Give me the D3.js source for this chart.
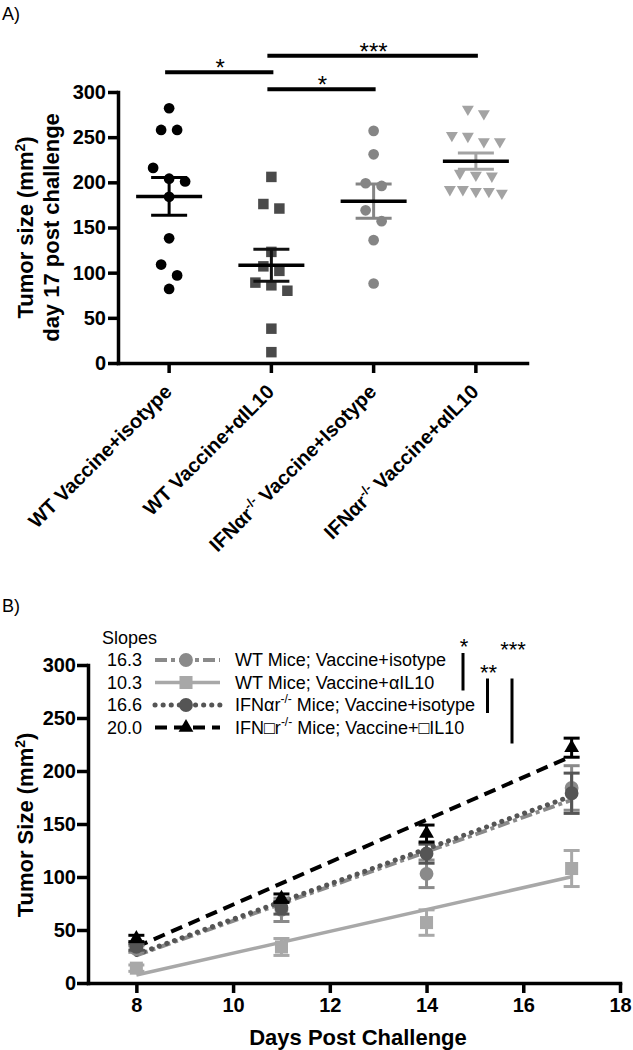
<!DOCTYPE html>
<html>
<head>
<meta charset="utf-8">
<script src="https://cdn.jsdelivr.net/npm/d3@7"></script>
<style>
body { margin: 0; background: #fff; }
svg { display: block; font-family: "Liberation Sans", Arial, sans-serif; }
</style>
</head>
<body>
<svg id="chart" width="633" height="1050"></svg>
<script>
// ---- panel A: day 17 tumour sizes per group
const groupsA = ["WT Vaccine+isotype", "WT Vaccine+αIL10", "IFNαr-/- Vaccine+Isotype", "IFNαr-/- Vaccine+αIL10"];
const wtIso17 = [282, 258, 258, 216, 204, 201, 184, 138, 109, 97, 82];
const wtIl1017 = [206, 176, 171, 123, 107, 102, 89, 86, 80, 38, 12];
const ifnIso17 = [257, 231, 199, 196, 169, 157, 136, 88];
const ifnIl1017 = [281, 276, 252, 251, 245, 245, 210, 208, 207, 192, 192, 190, 190, 188];
const yTicksA = [0, 50, 100, 150, 200, 250, 300];
const sigA = [[0, 1, "*", 322], [1, 2, "*", 303], [1, 3, "***", 340]];

// ---- panel B: growth curves
const days = [8, 11, 14, 17];
const wtIsoMean = [32, 69, 103, 184];
const wtIsoSem = [3, 11, 13, 21];
const wtIl10Mean = [14, 34, 57, 108];
const wtIl10Sem = [3, 8, 12, 17];
const ifnIsoMean = [34, 71, 122, 179];
const ifnIsoSem = [3, 6, 9, 19];
const ifnIl10Mean = [42, 80, 141, 222];
const ifnIl10Sem = [3, 4, 8, 9];
const slopes = [16.3, 10.3, 16.6, 20.0];
const fitStart = [26, 7.5, 27, 34];
const seriesB = ["WT Mice; Vaccine+isotype", "WT Mice; Vaccine+αIL10", "IFNαr-/- Mice; Vaccine+isotype", "IFN□r-/- Mice; Vaccine+□IL10"];
const xTicksB = [8, 10, 12, 14, 16, 18];
const yTicksB = [0, 50, 100, 150, 200, 250, 300];
const sigB = [[0, 1, "*"], [1, 2, "**"], [1, 3, "***"]];

const svg = d3.select("#chart");

// splits "-/-" into a superscript
function addText(sel, str, supSize) {
  const parts = str.split("-/-");
  parts.forEach((p, i) => {
    if (i > 0) {
      sel.append("tspan").attr("dy", -8).attr("font-size", supSize).text("-/-");
      sel.append("tspan").attr("dy", 8).text(p);
    } else {
      sel.append("tspan").text(p);
    }
  });
}

function styleAxis(g, fs) {
  g.selectAll(".domain").attr("stroke-width", 3.5).attr("stroke-linecap", "square");
  g.selectAll(".tick line").attr("stroke-width", 3.5);
  g.selectAll(".tick text").attr("font-size", fs).attr("font-weight", "bold").attr("fill", "#000")
    .attr("font-family", "Liberation Sans, Arial, sans-serif");
}

svg.append("text").attr("x", 2).attr("y", 20).attr("font-size", 18).text("A)");
svg.append("text").attr("x", 2).attr("y", 612).attr("font-size", 18).text("B)");

// ================= panel A
const xA = d3.scaleBand().domain(groupsA).range([118, 527]);
const yA = d3.scaleLinear().domain([0, 300]).range([363, 92]);
const cx = g => xA(g) + xA.bandwidth() / 2;

const yAxisA = svg.append("g").attr("transform", "translate(118,0)")
  .call(d3.axisLeft(yA).tickValues(yTicksA).tickSize(10).tickSizeOuter(0).tickPadding(2));
styleAxis(yAxisA, 20);

const xAxisA = svg.append("g").attr("transform", "translate(0,363)")
  .call(d3.axisBottom(xA).tickSize(10).tickSizeOuter(0));
styleAxis(xAxisA, 20);
xAxisA.selectAll(".tick text").remove();

groupsA.forEach(g => {
  const t = svg.append("text")
    .attr("transform", "translate(" + (cx(g) + 4) + ",393) rotate(-45)")
    .attr("text-anchor", "end").attr("font-size", 20).attr("font-weight", "bold");
  addText(t, g, 13);
});

const yTitleA = svg.append("text").attr("transform", "translate(33," + ((yA(0) + yA(300)) / 2) + ") rotate(-90)")
  .attr("text-anchor", "middle").attr("font-size", 22).attr("font-weight", "bold");
yTitleA.append("tspan").text("Tumor size (mm");
yTitleA.append("tspan").attr("dy", -8).attr("font-size", 14).text("2");
yTitleA.append("tspan").attr("dy", 8).text(")");
svg.append("text").attr("transform", "translate(59," + ((yA(0) + yA(300)) / 2) + ") rotate(-90)")
  .attr("text-anchor", "middle").attr("font-size", 22).attr("font-weight", "bold")
  .text("day 17 post challenge");

// rows of near-equal values spread side by side
function swarm(values) {
  const sorted = values.slice().sort((a, b) => b - a);
  const rows = [];
  sorted.forEach(v => {
    const last = rows[rows.length - 1];
    if (last && Math.abs(yA(v) - yA(last[0])) < 14) last.push(v);
    else rows.push([v]);
  });
  const out = [];
  rows.forEach(r => {
    const step = r.length > 1 ? Math.min(16, 52 / (r.length - 1)) : 0;
    r.forEach((v, i) => out.push({ v: v, dx: (i - (r.length - 1) / 2) * step }));
  });
  return out;
}

const setsA = [
  { vals: wtIso17, sym: d3.symbolCircle, size: 90, fill: "#000", bar: "#000", rot: 0 },
  { vals: wtIl1017, sym: d3.symbolSquare, size: 110, fill: "#4a4a4a", bar: "#111", rot: 0 },
  { vals: ifnIso17, sym: d3.symbolCircle, size: 90, fill: "#858585", bar: "#858585", rot: 0 },
  { vals: ifnIl1017, sym: d3.symbolTriangle, size: 62, fill: "#a3a3a3", bar: "#a3a3a3", rot: 180 }
];

setsA.forEach((s, i) => {
  const g = groupsA[i];
  const x0 = cx(g);
  const mean = d3.mean(s.vals);
  const sem = d3.deviation(s.vals) / Math.sqrt(s.vals.length);
  const gg = svg.append("g");
  gg.selectAll("path.pt").data(swarm(s.vals)).enter().append("path")
    .attr("d", d3.symbol().type(s.sym).size(s.size))
    .attr("transform", d => "translate(" + (x0 + d.dx) + "," + yA(d.v) + ") rotate(" + s.rot + ")")
    .attr("fill", s.fill);
  gg.append("line").attr("x1", x0).attr("x2", x0).attr("y1", yA(mean - sem)).attr("y2", yA(mean + sem))
    .attr("stroke", s.bar).attr("stroke-width", 3);
  [mean - sem, mean + sem].forEach(v => {
    gg.append("line").attr("x1", x0 - 18).attr("x2", x0 + 18).attr("y1", yA(v)).attr("y2", yA(v))
      .attr("stroke", s.bar).attr("stroke-width", 3);
  });
  gg.append("line").attr("x1", x0 - 33).attr("x2", x0 + 33).attr("y1", yA(mean)).attr("y2", yA(mean))
    .attr("stroke", "#000").attr("stroke-width", 3.5);
});

sigA.forEach(d => {
  const y = yA(d[3]);
  svg.append("line").attr("x1", cx(groupsA[d[0]]) - 4).attr("x2", cx(groupsA[d[1]]) + 2)
    .attr("y1", y).attr("y2", y).attr("stroke", "#000").attr("stroke-width", 4);
  svg.append("text").attr("x", (cx(groupsA[d[0]]) + cx(groupsA[d[1]])) / 2).attr("y", y + 4)
    .attr("text-anchor", "middle").attr("font-size", 24).text(d[2]);
});

// ================= panel B
const xB = d3.scaleLinear().domain([7, 18]).range([88, 620]);
const yB = d3.scaleLinear().domain([0, 300]).range([983, 665]);

const yAxisB = svg.append("g").attr("transform", "translate(88,0)")
  .call(d3.axisLeft(yB).tickValues(yTicksB).tickSize(11).tickSizeOuter(0).tickPadding(1));
styleAxis(yAxisB, 20);
const xAxisB = svg.append("g").attr("transform", "translate(0,983)")
  .call(d3.axisBottom(xB).tickValues(xTicksB).tickSize(10).tickSizeOuter(0).tickPadding(5));
styleAxis(xAxisB, 20);

const yTitleB = svg.append("text").attr("transform", "translate(33," + 825 + ") rotate(-90)")
  .attr("text-anchor", "middle").attr("font-size", 22).attr("font-weight", "bold");
yTitleB.append("tspan").text("Tumor Size (mm");
yTitleB.append("tspan").attr("dy", -8).attr("font-size", 14).text("2");
yTitleB.append("tspan").attr("dy", 8).text(")");
svg.append("text").attr("x", 358).attr("y", 1045).attr("text-anchor", "middle")
  .attr("font-size", 22).attr("font-weight", "bold").text("Days Post Challenge");

const setsB = [
  { mean: wtIsoMean, sem: wtIsoSem, color: "#8a8a8a", sym: d3.symbolCircle, size: 150, dash: "12,4,4,4", w: 4, cap: "butt" },
  { mean: wtIl10Mean, sem: wtIl10Sem, color: "#a8a8a8", sym: d3.symbolSquare, size: 170, dash: null, w: 3.5, cap: "butt" },
  { mean: ifnIsoMean, sem: ifnIsoSem, color: "#555", sym: d3.symbolCircle, size: 150, dash: "0.1,8", w: 5, cap: "round" },
  { mean: ifnIl10Mean, sem: ifnIl10Sem, color: "#000", sym: d3.symbolTriangle, size: 95, dash: "12,7", w: 4, cap: "butt" }
];

const fitLine = d3.line().x(d => xB(d[0])).y(d => yB(d[1]));
setsB.forEach((s, i) => {
  const pts = [8, 17].map(d => [d, fitStart[i] + slopes[i] * (d - 8)]);
  const p = svg.append("path").attr("d", fitLine(pts)).attr("fill", "none")
    .attr("stroke", s.color).attr("stroke-width", s.w).attr("stroke-linecap", s.cap);
  if (s.dash) p.attr("stroke-dasharray", s.dash);
});

setsB.forEach(s => {
  const g = svg.append("g");
  days.forEach((d, j) => {
    const x = xB(d), lo = yB(s.mean[j] - s.sem[j]), hi = yB(s.mean[j] + s.sem[j]);
    g.append("line").attr("x1", x).attr("x2", x).attr("y1", lo).attr("y2", hi).attr("stroke", s.color).attr("stroke-width", 3);
    [lo, hi].forEach(y => g.append("line").attr("x1", x - 8).attr("x2", x + 8).attr("y1", y).attr("y2", y)
      .attr("stroke", s.color).attr("stroke-width", 3));
  });
  g.selectAll("path").data(days).enter().append("path")
    .attr("d", d3.symbol().type(s.sym).size(s.size))
    .attr("transform", (d, j) => "translate(" + xB(d) + "," + yB(s.mean[j]) + ")")
    .attr("fill", s.color);
});

// legend
const rowY = i => 660 + i * 22.5;
svg.append("text").attr("x", 102).attr("y", 644).attr("font-size", 18).text("Slopes");
setsB.forEach((s, i) => {
  const y = rowY(i);
  svg.append("text").attr("x", 107).attr("y", y + 6).attr("font-size", 18).text(d3.format(".1f")(slopes[i]));
  const l = svg.append("line").attr("x1", 155).attr("x2", 220).attr("y1", y).attr("y2", y)
    .attr("stroke", s.color).attr("stroke-width", s.w).attr("stroke-linecap", s.cap);
  if (s.dash) l.attr("stroke-dasharray", s.dash);
  svg.append("path").attr("d", d3.symbol().type(s.sym).size(s.size))
    .attr("transform", "translate(186," + y + ")").attr("fill", s.color);
  const t = svg.append("text").attr("x", 235).attr("y", y + 6).attr("font-size", 18);
  addText(t, seriesB[i], 12);
});

sigB.forEach((d, k) => {
  const x = 463 + k * 24.5;
  const top = rowY(d[0]) - 7 + (k > 0 ? 3 : 0);
  const bot = rowY(d[1]) + 8 + (d[1] - d[0] - 1) * 8;
  svg.append("line").attr("x1", x).attr("x2", x).attr("y1", top).attr("y2", bot)
    .attr("stroke", "#000").attr("stroke-width", 3);
  svg.append("text").attr("x", x + 1).attr("y", k === 2 ? top - 22 : top + 1)
    .attr("text-anchor", "middle").attr("font-size", 22).text(d[2]);
});
</script>
</body>
</html>
